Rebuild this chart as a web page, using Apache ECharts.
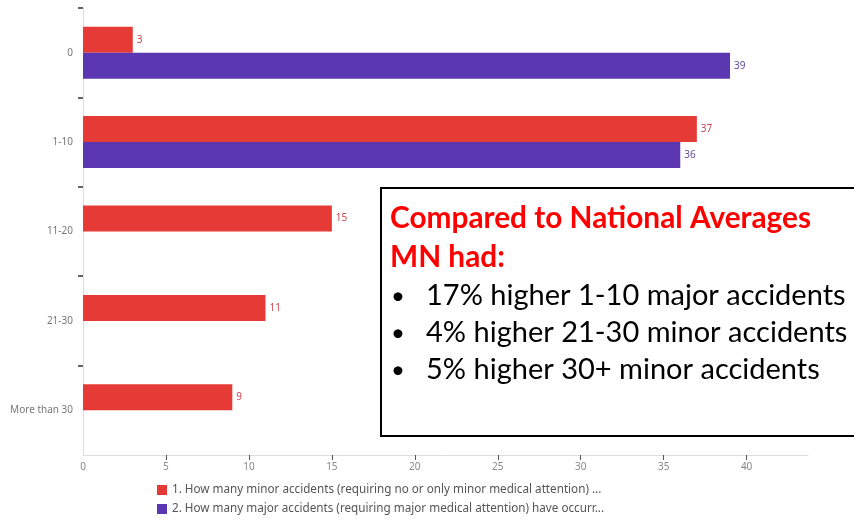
<!DOCTYPE html>
<html>
<head>
<meta charset="utf-8">
<script src="https://cdn.jsdelivr.net/npm/echarts@6/dist/echarts.min.js"></script>
<style>
  html, body { margin: 0; padding: 0; background: #fff; }
  #chart { width: 854px; height: 519px; }
</style>
</head>
<body>
<div id="chart"></div>
<script>
// Accident counts per response bucket
const categories = ['0', '1-10', '11-20', '21-30', 'More than 30'];
const minorAccidents = [3, 37, 15, 11, 9];
const majorAccidents = [39, 36, null, null, null];
const seriesNames = [
  '1. How many minor accidents (requiring no or only minor medical attention) ...',
  '2. How many major accidents (requiring major medical attention) have occurr...'
];
const xLabels = [0, 5, 10, 15, 20, 25, 30, 35, 40];
const xTickMarks = [5, 10, 15, 20, 25, 30, 35, 40];

const noteTitle = ['Compared to National Averages', 'MN had:'];
const noteBullets = [
  '17% higher 1-10 major accidents',
  '4% higher 21-30 minor accidents',
  '5% higher 30+ minor accidents'
];

const RED = '#e53a36';
const PURPLE = '#5c37b2';
const labelFont = 'Noto Sans, sans-serif';

const chart = echarts.init(document.getElementById('chart'), null, { renderer: 'canvas' });

// Callout box with the state-vs-national comparison
const noteGraphics = [
  {
    type: 'rect',
    left: 380, top: 187,
    shape: { width: 490, height: 248 },
    style: { fill: '#fff', stroke: '#000', lineWidth: 2 },
    z: 100
  }
];
const titleY = [218, 257];
noteTitle.forEach((t, i) => {
  noteGraphics.push({
    type: 'text',
    x: 390, y: titleY[i],
    style: { text: t, fill: '#ff0000', font: 'bold 29.8px Lato, sans-serif', verticalAlign: 'middle' },
    z: 101
  });
});
const bulletY = [296, 333, 370];
noteBullets.forEach((t, i) => {
  noteGraphics.push({
    type: 'text',
    x: 391, y: bulletY[i],
    style: { text: '\u2022', fill: '#000', font: '24px Lato, sans-serif', verticalAlign: 'middle' },
    z: 101
  });
  noteGraphics.push({
    type: 'text',
    x: 426, y: bulletY[i],
    style: { text: t, fill: '#000', font: '29px Lato, sans-serif', verticalAlign: 'middle' },
    z: 101
  });
});

chart.setOption({
  animation: false,
  backgroundColor: '#fff',
  grid: { left: 83, top: 8, right: 46, bottom: 64, containLabel: false },
  legend: {
    orient: 'vertical',
    left: 157, top: 484,
    height: 40,
    padding: 0,
    itemWidth: 10, itemHeight: 10,
    itemGap: 7,
    icon: 'rect',
    textStyle: { color: '#555', fontSize: 11.7, fontFamily: labelFont },
    data: seriesNames
  },
  xAxis: {
    type: 'value',
    min: 0, max: 43.7,
    axisLine: { show: true, lineStyle: { color: '#ddd', width: 1 } },
    axisTick: { show: true, length: 5, customValues: xTickMarks, lineStyle: { color: '#555' } },
    axisLabel: { customValues: xLabels, color: '#888', fontSize: 10, fontFamily: labelFont, margin: 7 },
    splitLine: { show: false }
  },
  yAxis: [
    {
      type: 'category',
      inverse: true,
      data: categories,
      axisLine: { show: true, lineStyle: { color: '#ddd', width: 1 } },
      axisTick: { show: false },
      axisLabel: { color: '#777', fontSize: 10, fontFamily: labelFont, margin: 10 }
    },
    {
      // boundary tick marks between the buckets (none at the bottom edge)
      type: 'category',
      position: 'left',
      inverse: true,
      boundaryGap: false,
      data: categories.concat(['']),
      axisLine: { show: false },
      axisLabel: { show: false },
      axisTick: {
        show: true, length: 5,
        interval: (i) => i < categories.length,
        lineStyle: { color: '#333', width: 1.5 }
      },
      splitLine: { show: false }
    }
  ],
  series: [
    {
      name: seriesNames[0],
      type: 'bar',
      data: minorAccidents,
      itemStyle: { color: RED },
      barWidth: 26,
      barGap: '0%',
      label: { show: true, position: 'right', distance: 4, color: '#c8464e', fontSize: 10, fontFamily: labelFont }
    },
    {
      name: seriesNames[1],
      type: 'bar',
      data: majorAccidents,
      itemStyle: { color: PURPLE },
      barWidth: 26,
      barGap: '0%',
      label: { show: true, position: 'right', distance: 4, color: '#5e4c9c', fontSize: 10, fontFamily: labelFont }
    }
  ],
  graphic: noteGraphics
});
</script>
</body>
</html>
